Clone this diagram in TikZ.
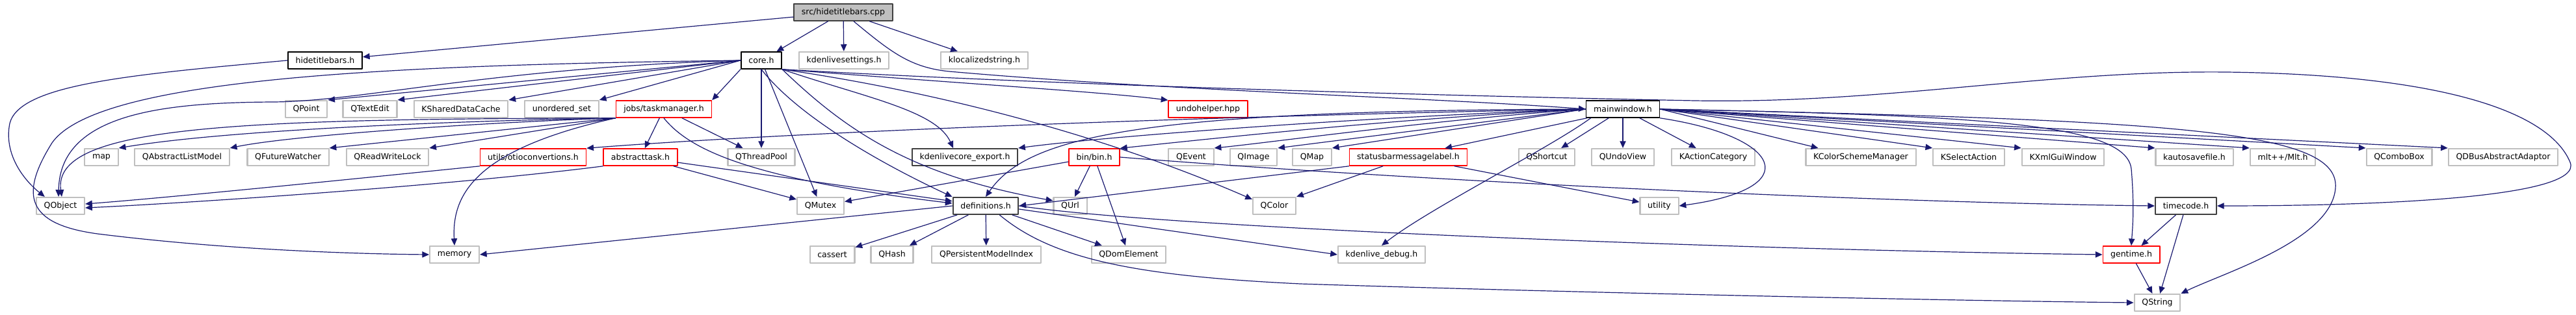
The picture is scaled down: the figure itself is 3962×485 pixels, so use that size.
\documentclass[tikz,border=0pt]{standalone}
\usepackage{fontspec}
\setmainfont{DejaVu Sans}
\usetikzlibrary{arrows.meta,calc}

\definecolor{edgeblue}{HTML}{191970}
\definecolor{grayline}{HTML}{BFBFBF}
\definecolor{darkline}{HTML}{404040}

\tikzset{
  file/.style={draw=black, line width=1.2pt, fill=white, minimum height=19.5pt,
    inner xsep=8.8pt, inner ysep=0pt, font=\fontsize{9.4}{11}\selectfont},
  sysfile/.style={file, draw=grayline, line width=1.6pt},
  cutfile/.style={file, draw=red},
  docfile/.style={file, draw=darkline, line width=1.5pt},
  rootfile/.style={file, draw=darkline, fill=grayline},
  dep/.style={draw=edgeblue, line width=0.9pt, -{Triangle[length=8pt,width=7pt]}},
}

\begin{document}
\begin{tikzpicture}[x=0.75pt, y=-0.75pt, line join=round, line cap=round]

		\useasboundingbox (0,0) rectangle (3962,485);

		% ================= row 0: the source file =================
		\node[rootfile] (cpp) at (1297,19) {src/hidetitlebars.cpp};

		% ================= row 1 =================
		\node[file]    (hidetitle) at (500,93)  {hidetitlebars.h};
		\node[file]    (core)      at (1171,93) {core.h};
		\node[sysfile] (settings)  at (1298,93) {kdenlivesettings.h};
		\node[sysfile] (klocal)    at (1514,93) {klocalizedstring.h};

		% ================= row 2 =================
		\node[sysfile] (qpoint)     at (471,168)  {QPoint};
		\node[sysfile] (qtextedit)  at (569,168)  {QTextEdit};
		\node[sysfile] (kshared)    at (709,168)  {KSharedDataCache};
		\node[sysfile] (unordset)   at (864,168)  {unordered\_set};
		\node[cutfile] (taskmgr)    at (1021,168) {jobs/taskmanager.h};
		\node[cutfile] (undohelper) at (1858,168) {undohelper.hpp};
		\node[file]    (mainwin)    at (2496,168) {mainwindow.h};

		% ================= row 3 =================
		\node[sysfile] (map)       at (156,242)  {map};
		\node[sysfile] (qalm)      at (280,242)  {QAbstractListModel};
		\node[sysfile] (qfw)       at (443,242)  {QFutureWatcher};
		\node[sysfile] (qrwl)      at (596,242)  {QReadWriteLock};
		\node[cutfile] (otio)      at (820,242)  {utils/otioconvertions.h};
		\node[cutfile] (abstask)   at (985,242)  {abstracttask.h};
		\node[sysfile] (qtpool)    at (1171,242) {QThreadPool};
		\node[docfile] (coreexp)   at (1484,242) {kdenlivecore\_export.h};
		\node[cutfile] (bin)       at (1683,242) {bin/bin.h};
		\node[sysfile] (qevent)    at (1832,242) {QEvent};
		\node[sysfile] (qimage)    at (1928,242) {QImage};
		\node[sysfile] (qmap)      at (2018,242) {QMap};
		\node[cutfile] (statusbar) at (2166,242) {statusbarmessagelabel.h};
		\node[sysfile] (qshortcut) at (2379,242) {QShortcut};
		\node[sysfile] (qundoview) at (2496,242) {QUndoView};
		\node[sysfile] (kactcat)   at (2635,242) {KActionCategory};
		\node[sysfile] (kcolor)    at (2862,242) {KColorSchemeManager};
		\node[sysfile] (ksel)      at (3028,242) {KSelectAction};
		\node[sysfile] (kxml)      at (3173,242) {KXmlGuiWindow};
		\node[sysfile] (kautosave) at (3375,242) {kautosavefile.h};
		\node[sysfile] (mlt)       at (3511,242) {mlt++/Mlt.h};
		\node[sysfile] (qcombo)    at (3690,242) {QComboBox};
		\node[sysfile] (qdbus)     at (3850,242) {QDBusAbstractAdaptor};

		% ================= row 4 =================
		\node[sysfile] (qobject)  at (93,317)   {QObject};
		\node[sysfile] (qmutex)   at (1262,317) {QMutex};
		\node[docfile] (defs)     at (1516,317) {definitions.h};
		\node[sysfile] (qurl)     at (1646,317) {QUrl};
		\node[sysfile] (qcolor)   at (1960,317) {QColor};
		\node[sysfile] (utility)  at (2552,317) {utility};
		\node[docfile] (timecode) at (3362,317) {timecode.h};

		% ================= row 5 =================
		\node[sysfile] (memory)  at (699,392)  {memory};
		\node[sysfile] (cassert) at (1280,392) {cassert};
		\node[sysfile] (qhash)   at (1372,392) {QHash};
		\node[sysfile] (qpmi)    at (1517,392) {QPersistentModelIndex};
		\node[sysfile] (qdom)    at (1736,392) {QDomElement};
		\node[sysfile] (kdebug)  at (2125,392) {kdenlive\_debug.h};
		\node[cutfile] (gentime) at (3278,392) {gentime.h};

		% ================= row 6 =================
		\node[sysfile] (qstring) at (3318,466) {QString};

		% ================= includes of the source file =================
		\draw[dep] (cpp) -- (hidetitle);
		\draw[dep] (cpp) -- (core);
		\draw[dep] (cpp) -- (settings);
		\draw[dep] (cpp) -- (klocal);
		\draw[dep] ($(cpp.south)+(16,0)$) .. controls (1370,80) and (1400,104) .. (1460,110)
			.. controls (1800,140) and (2200,150) .. (mainwin.west);

		% ================= hidetitlebars.h =================
		\draw[dep] (hidetitle.west) .. controls (200,115) and (30,130) .. (15,190)
			.. controls (5,240) and (40,280) .. ($(qobject.north west)+(14,0)$);

		% ================= core.h =================
		\draw[dep] (core.west) -- (qpoint.north east);
		\draw[dep] (core.west) -- (qtextedit.north east);
		\draw[dep] (core.west) -- (kshared.north east);
		\draw[dep] (core.west) -- (unordset.north east);
		\draw[dep] (core.south west) -- (taskmgr.north east);
		\draw[dep] (core.west) .. controls (750,105) and (560,156) .. (420,157)
			.. controls (250,158) and (92,175) .. ($(qobject.north)+(-3,0)$);
		\draw[dep] (core.west) .. controls (600,100) and (150,120) .. (80,220)
			.. controls (30,300) and (40,345) .. (150,360)
			.. controls (350,385) and (550,391) .. (memory.west);
		\draw[dep] (core.south) -- (qtpool.north);
		\draw[dep] (core) -- (qmutex);
		\draw[dep] (core.south) .. controls (1220,170) and (1330,240) .. (defs.north west);
		\draw[dep] (core.south east) .. controls (1300,200) and (1400,270) .. ($(qurl.north west)+(0,6)$);
		\draw[dep] (core.south east) .. controls (1330,150) and (1440,170) .. ($(coreexp.north)+(-18,0)$);
		\draw[dep] (core.south east) .. controls (1500,150) and (1750,230) .. ($(qcolor.north west)+(0,4)$);
		\draw[dep] (core.south east) .. controls (1500,130) and (1700,142) .. (undohelper.north west);
		\draw[dep] (core.south east) .. controls (1700,135) and (2350,150) .. (2607,155)
			.. controls (2900,160) and (3150,108) .. (3424,111)
			.. controls (3750,115) and (3920,170) .. (3953,250)
			.. controls (3975,305) and (3650,317) .. (timecode.east);

		% ================= jobs/taskmanager.h =================
		\draw[dep] (taskmgr.south west) .. controls (700,186) and (350,200) .. (map.north east);
		\draw[dep] (taskmgr.south west) .. controls (750,188) and (450,208) .. (qalm.north east);
		\draw[dep] (taskmgr.south west) -- (qfw.north east);
		\draw[dep] (taskmgr.south west) -- (qrwl.north east);
		\draw[dep] (taskmgr.south west) .. controls (350,183) and (80,195) .. ($(qobject.north)+(2,0)$);
		\draw[dep] (taskmgr.south west) .. controls (730,230) and (695,300) .. (memory.north);
		\draw[dep] (taskmgr) -- (abstask);
		\draw[dep] (taskmgr) -- (qtpool);
		\draw[dep] (taskmgr.south) .. controls (1060,230) and (1150,275) .. ($(defs.west)+(0,-4)$);

		% ================= row 3 sources =================
		\draw[dep] (otio.south west) .. controls (500,280) and (250,305) .. ($(qobject.east)+(0,-3)$);
		\draw[dep] (abstask.south west) .. controls (700,285) and (300,312) .. ($(qobject.east)+(0,3)$);
		\draw[dep] (abstask) -- (qmutex);
		\draw[dep] (abstask) -- (defs);
		\draw[dep] (bin) -- (qmutex);
		\draw[dep] (bin) -- (qurl);
		\draw[dep] (bin) -- (qdom);
		\draw[dep] (bin.east) .. controls (2200,280) and (2900,312) .. (timecode.west);
		\draw[dep] (statusbar.south west) -- (defs.east);
		\draw[dep] (statusbar) -- (qcolor.north east);
		\draw[dep] (statusbar) -- (utility);

		% ================= mainwindow.h =================
		\draw[dep] (mainwin.west) .. controls (1800,180) and (1200,205) .. (otio.north east);
		\draw[dep] (mainwin.west) .. controls (1750,170) and (1580,210) .. (defs.north);
		\draw[dep] (mainwin.west) .. controls (2100,180) and (1700,210) .. (coreexp.north east);
		\draw[dep] (mainwin.west) .. controls (2150,182) and (1850,215) .. (bin.north east);
		\draw[dep] (mainwin.west) .. controls (2200,185) and (1950,220) .. (qevent.north east);
		\draw[dep] (mainwin.west) -- (qimage.north east);
		\draw[dep] (mainwin.west) -- (qmap.north east);
		\draw[dep] ($(mainwin.south west)+(2,0)$) -- ($(statusbar.north east)+(-35,0)$);
		\draw[dep] (mainwin) -- (qshortcut);
		\draw[dep] (mainwin) -- (qundoview);
		\draw[dep] (mainwin) -- (kactcat);
		\draw[dep] (mainwin.east) -- ($(kcolor.north west)+(20,0)$);
		\draw[dep] (mainwin.east) -- (ksel.north west);
		\draw[dep] (mainwin.east) -- (kxml.north west);
		\draw[dep] (mainwin.east) -- (kautosave.north west);
		\draw[dep] (mainwin.east) -- (mlt.north west);
		\draw[dep] (mainwin.east) -- (qcombo.north west);
		\draw[dep] (mainwin.east) -- (qdbus.north west);
		\draw[dep] ($(mainwin.south west)+(8,0)$) .. controls (2380,230) and (2200,320) .. (kdebug.north);
		\draw[dep] (mainwin.south east) .. controls (2740,210) and (2780,290) .. (utility.east);
		\draw[dep] (mainwin.east) .. controls (3050,178) and (3270,190) .. (3278,260)
			.. controls (3283,320) and (3280,350) .. (gentime.north);
		\draw[dep] (mainwin.east) .. controls (3350,185) and (3600,200) .. (3592,290)
			.. controls (3585,370) and (3420,420) .. (qstring.north east);

		% ================= definitions.h =================
		\draw[dep] (defs.west) -- (memory.east);
		\draw[dep] (defs) -- (cassert);
		\draw[dep] (defs) -- (qhash);
		\draw[dep] (defs) -- (qpmi);
		\draw[dep] (defs) -- (qdom);
		\draw[dep] ($(defs.east)+(0,5)$) -- (kdebug.west);
		\draw[dep] (defs.east) .. controls (1800,352) and (2700,385) .. (gentime.west);
		\draw[dep] ($(defs.south east)+(-30,0)$) .. controls (1620,400) and (1750,425) .. (2000,437)
			.. controls (2400,450) and (3000,463) .. (qstring.west);

		% ================= timecode.h and gentime.h =================
		\draw[dep] (timecode) -- (gentime);
		\draw[dep] (timecode) -- (qstring);
		\draw[dep] (gentime) -- (qstring);

	\end{tikzpicture}
\end{document}
